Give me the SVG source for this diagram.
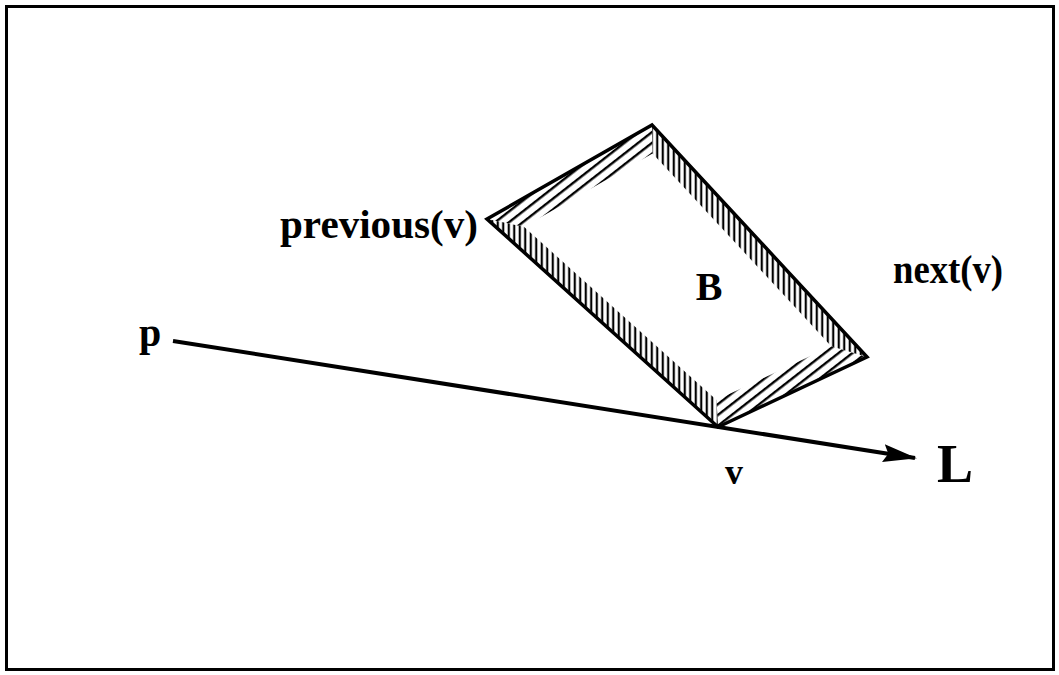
<svg xmlns="http://www.w3.org/2000/svg" width="1059" height="675" viewBox="0 0 1059 675">
<style>
.lbl{font-family:"Liberation Serif","Times New Roman",serif;font-weight:bold;fill:#000}
.edge{fill:none;stroke:#000;stroke-width:3.5;stroke-linejoin:miter}
</style>
<defs>
<pattern id="hv" patternUnits="userSpaceOnUse" width="5.5" height="10">
<line x1="2.75" y1="0" x2="2.75" y2="10" stroke="#000" stroke-width="2.2"/>
</pattern>
<pattern id="hd" patternUnits="userSpaceOnUse" width="10" height="8.5" patternTransform="rotate(-38)">
<line x1="0" y1="4" x2="10" y2="4" stroke="#000" stroke-width="2.4"/>
</pattern>
<marker id="arr" markerWidth="34" markerHeight="18" refX="32" refY="9" orient="auto" markerUnits="userSpaceOnUse">
<path d="M0,0 L34,9 L0,18 L5,9 Z" fill="#000"/>
</marker>
</defs>
<rect x="6.5" y="6.5" width="1047" height="663" fill="#fff" stroke="#000" stroke-width="3"/>
<g id="B">
<polygon points="487,219 718,427 716.5,400.1 523.9,226.7" fill="url(#hv)"/>
<polygon points="652,125 867,357 831.2,346.3 652.5,153.4" fill="url(#hv)"/>
<polygon points="487,219 652,125 652.5,153.4 523.9,226.7" fill="url(#hd)"/>
<polygon points="718,427 867,357 831.2,346.3 716.5,400.1" fill="url(#hd)"/>
<polygon class="edge" points="487,219 652,125 867,357 718,427"/>
<text class="lbl" x="709" y="300" font-size="40" text-anchor="middle">B</text>
</g>
<g id="connectors">
<line x1="173" y1="341" x2="915" y2="458" stroke="#000" stroke-width="4" marker-end="url(#arr)"/>
</g>
<g id="label-previous"><text class="lbl" x="280" y="238" font-size="40" textLength="198" lengthAdjust="spacingAndGlyphs">previous(v)</text></g>
<g id="label-next"><text class="lbl" x="893" y="283" font-size="40" textLength="110" lengthAdjust="spacingAndGlyphs">next(v)</text></g>
<g id="label-p"><text class="lbl" x="139" y="346" font-size="40">p</text></g>
<g id="label-v"><text class="lbl" x="725" y="484" font-size="36">v</text></g>
<g id="label-L"><text class="lbl" x="937" y="482" font-size="54">L</text></g>
</svg>
